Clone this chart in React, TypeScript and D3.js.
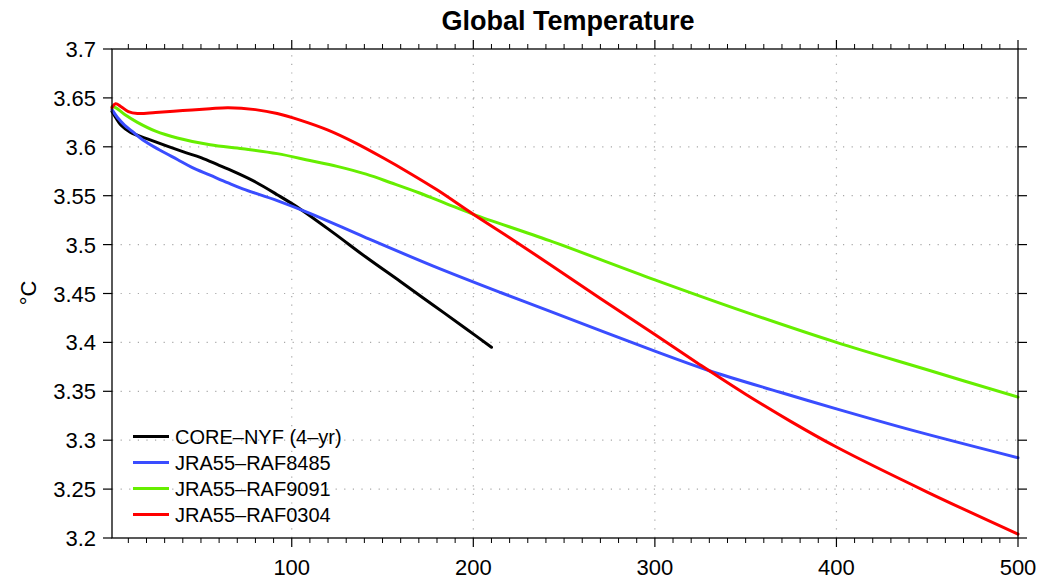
import React from "react";
import * as d3 from "d3";

const coreX = [1, 3, 6, 11, 22, 40, 50, 60, 70, 80, 92, 105, 123, 141, 160, 178, 196, 210];
const coreY = [3.636, 3.63, 3.622, 3.615, 3.607, 3.595, 3.589, 3.581, 3.573, 3.564, 3.551, 3.536, 3.512, 3.487, 3.462, 3.438, 3.414, 3.395];

const r8485X = [1, 4, 8, 12, 18, 27, 37, 45, 55, 65, 73, 92, 110, 141, 178, 215, 242, 300, 330, 369, 400, 442, 500];
const r8485Y = [3.638, 3.63, 3.622, 3.616, 3.607, 3.597, 3.587, 3.579, 3.571, 3.563, 3.557, 3.545, 3.532, 3.507, 3.478, 3.451, 3.432, 3.391, 3.371, 3.349, 3.332, 3.31, 3.282];

const r9091X = [1, 3, 8, 15, 25, 37, 55, 73, 92, 110, 125, 141, 155, 170, 185, 200, 242, 300, 350, 400, 450, 500];
const r9091Y = [3.641, 3.64, 3.633, 3.625, 3.616, 3.609, 3.602, 3.598, 3.593, 3.586, 3.58, 3.572, 3.563, 3.553, 3.542, 3.531, 3.504, 3.464, 3.431, 3.4, 3.372, 3.344];

const r0304X = [1, 3, 6, 10, 15, 25, 40, 55, 65, 80, 92, 105, 120, 135, 150, 165, 180, 200, 220, 242, 270, 300, 325, 350, 375, 400, 450, 500];
const r0304Y = [3.64, 3.644, 3.641, 3.636, 3.634, 3.635, 3.637, 3.639, 3.64, 3.638, 3.634, 3.627, 3.617, 3.604, 3.589, 3.573, 3.556, 3.531, 3.507, 3.48, 3.445, 3.408, 3.377, 3.347, 3.319, 3.293, 3.247, 3.204];

const seriesNames = ["CORE–NYF (4–yr)", "JRA55–RAF8485", "JRA55–RAF9091", "JRA55–RAF0304"];
const seriesColors = ["#000000", "#3a4dff", "#66ee00", "#ff0000"];
const xMajorTicks = [100, 200, 300, 400, 500];
const yTicks = [3.2, 3.25, 3.3, 3.35, 3.4, 3.45, 3.5, 3.55, 3.6, 3.65, 3.7];
const yTickLabels = ["3.2", "3.25", "3.3", "3.35", "3.4", "3.45", "3.5", "3.55", "3.6", "3.65", "3.7"];

const W = 1039, H = 581;
const L = 112, R = 1018, T = 49, B = 538;
const FONT = "'Liberation Sans', Arial, Helvetica, sans-serif";

export default function App() {
  const x = d3.scaleLinear().domain([1, 500]).range([L, R]);
  const y = d3.scaleLinear().domain([3.2, 3.7]).range([B, T]);
  const line = d3
    .line<[number, number]>()
    .x((d) => x(d[0]))
    .y((d) => y(d[1]))
    .curve(d3.curveCatmullRom.alpha(0.5));

  const series = [
    [coreX, coreY],
    [r8485X, r8485Y],
    [r9091X, r9091Y],
    [r0304X, r0304Y],
  ].map(([xs, ys]) => xs.map((v, i) => [v, ys[i]] as [number, number]));

  const minorTicks = d3.range(10, 500, 10).filter((v) => v % 100 !== 0);
  const gridDash = "1.2 7.4";

  return (
    <svg width={W} height={H} style={{ position: "absolute", left: 0, top: 0, background: "#fff" }} fontFamily={FONT}>
      <rect width={W} height={H} fill="#fff" />
      {yTicks.slice(1, -1).map((v) => (
        <line key={"gy" + v} x1={L} x2={R} y1={y(v)} y2={y(v)} stroke="#a8a8a8" strokeWidth={1.2} strokeDasharray={gridDash} />
      ))}
      {xMajorTicks.slice(0, -1).map((v) => (
        <line key={"gx" + v} x1={x(v)} x2={x(v)} y1={B} y2={T} stroke="#a8a8a8" strokeWidth={1.2} strokeDasharray={gridDash} />
      ))}
      {series.map((pts, i) => (
        <path key={"s" + i} d={line(pts) || ""} fill="none" stroke={seriesColors[i]} strokeWidth={3} strokeLinejoin="round" strokeLinecap="round" />
      ))}
      <rect x={L} y={T} width={R - L} height={B - T} fill="none" stroke="#000" strokeWidth={1.3} />
      {minorTicks.map((v) => (
        <g key={"mt" + v}>
          <line x1={x(v)} x2={x(v)} y1={B} y2={B + 5} stroke="#000" strokeWidth={1} />
          <line x1={x(v)} x2={x(v)} y1={T} y2={T - 5} stroke="#000" strokeWidth={1} />
        </g>
      ))}
      {xMajorTicks.map((v) => (
        <g key={"Mt" + v}>
          <line x1={x(v)} x2={x(v)} y1={B} y2={B + 9} stroke="#000" strokeWidth={1.2} />
          <line x1={x(v)} x2={x(v)} y1={T} y2={T - 9} stroke="#000" strokeWidth={1.2} />
          <text x={x(v)} y={575} fontSize={22} textAnchor="middle" fill="#000">
            {String(v)}
          </text>
        </g>
      ))}
      {yTicks.map((v, i) => (
        <g key={"yt" + v}>
          <line x1={L} x2={L - 9} y1={y(v)} y2={y(v)} stroke="#000" strokeWidth={1.2} />
          <line x1={R} x2={R + 9} y1={y(v)} y2={y(v)} stroke="#000" strokeWidth={1.2} />
          <text x={96} y={y(v) + 8} fontSize={22} textAnchor="end" fill="#000">
            {yTickLabels[i]}
          </text>
        </g>
      ))}
      <text transform="translate(36,293) rotate(-90)" fontSize={22} textAnchor="middle" fill="#000">
        °C
      </text>
      <text x={568} y={29.5} fontSize={27} fontWeight="bold" textAnchor="middle" fill="#000">
        Global Temperature
      </text>
      {seriesNames.map((name, i) => {
        const cy = 436.5 + i * 26;
        return (
          <g key={"lg" + i}>
            <line x1={133} x2={169} y1={cy} y2={cy} stroke={seriesColors[i]} strokeWidth={3} />
            <text x={175} y={cy + 7} fontSize={20} fill="#000">
              {name}
            </text>
          </g>
        );
      })}
    </svg>
  );
}
